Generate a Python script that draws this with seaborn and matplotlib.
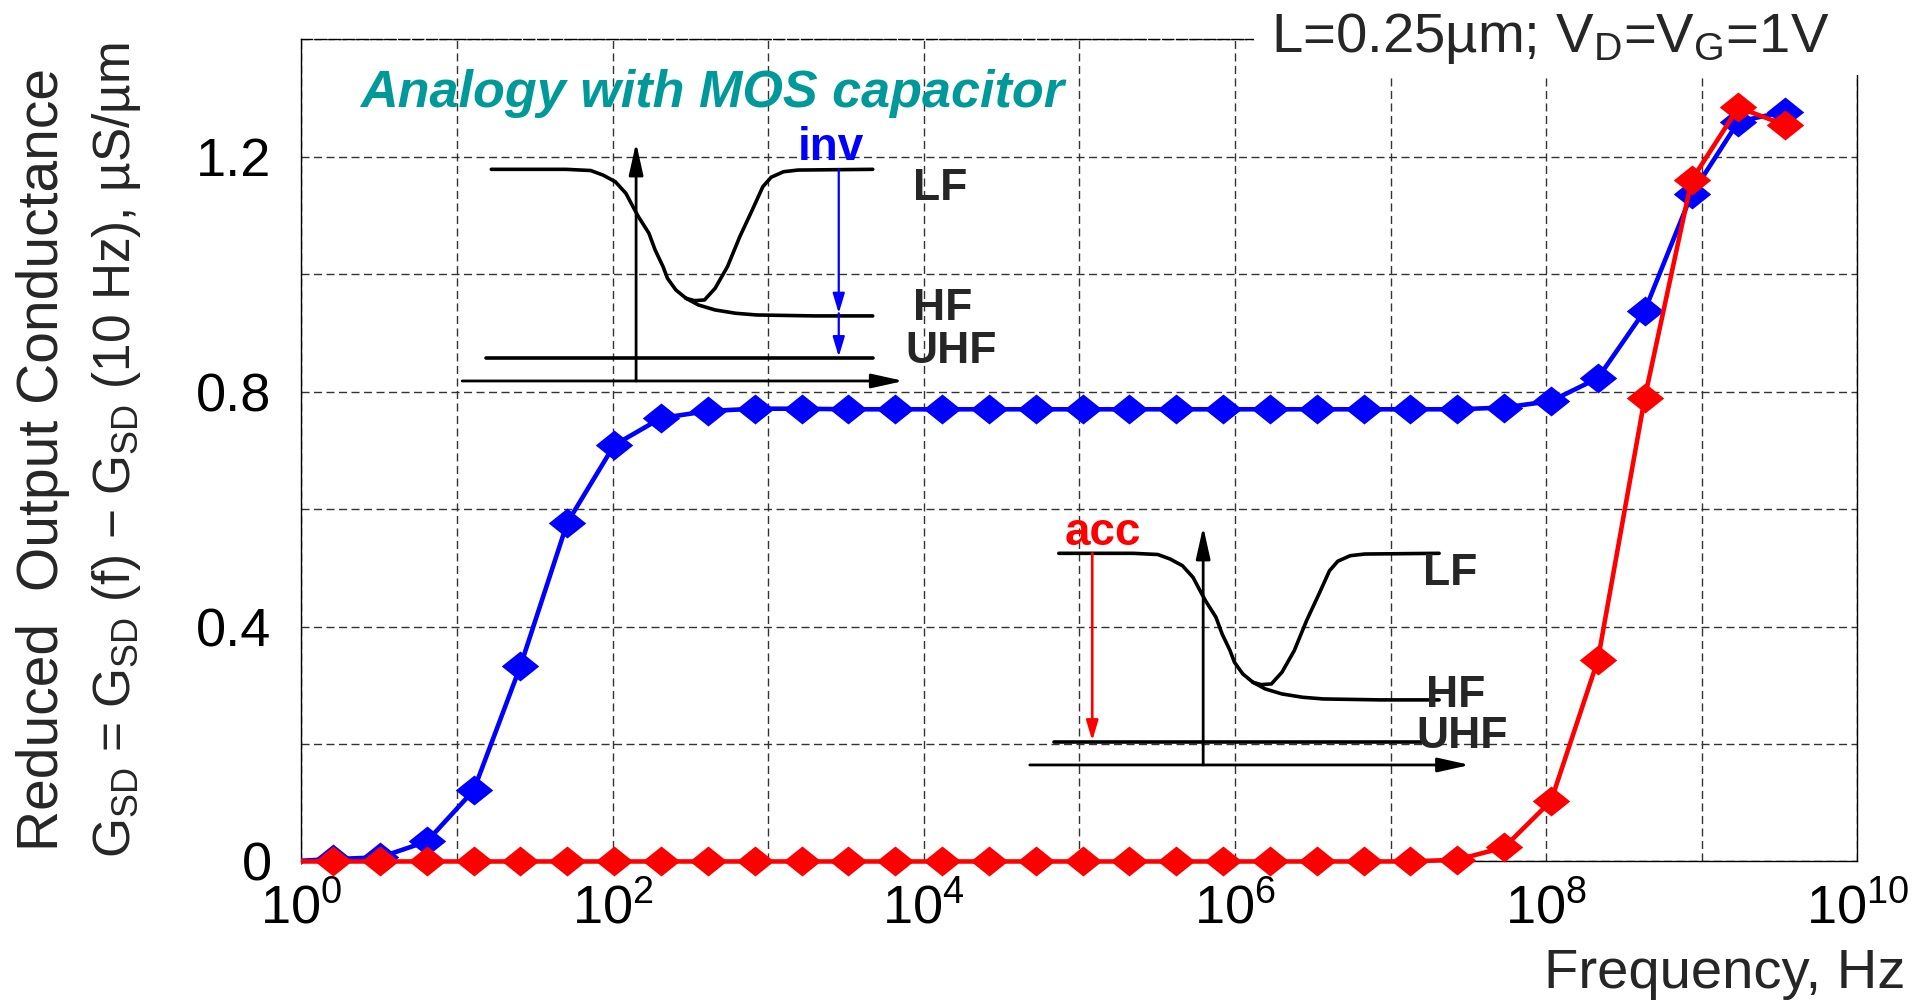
import matplotlib
matplotlib.use("Agg")
import matplotlib.pyplot as plt
from matplotlib.patches import Rectangle
from matplotlib.ticker import NullLocator
from matplotlib.transforms import Bbox, TransformedBbox
import pandas as pd
import seaborn as sns

# ---------------------------------------------------------------- data
freq_hz = [0.8, 1.6, 3.2, 6.4, 12.8, 25.6, 51.2, 102.4, 204.8, 409.6, 819.2,
           1.638e3, 3.277e3, 6.554e3, 1.311e4, 2.621e4, 5.243e4, 1.049e5,
           2.097e5, 4.194e5, 8.389e5, 1.678e6, 3.355e6, 6.711e6, 1.342e7,
           2.684e7, 5.369e7, 1.074e8, 2.147e8, 4.295e8, 8.590e8, 1.718e9,
           3.436e9]
g_inversion = [0.0, 0.004, 0.007, 0.034, 0.121, 0.333, 0.577, 0.709, 0.755,
               0.767, 0.771, 0.771, 0.770, 0.770, 0.770, 0.770, 0.770, 0.770,
               0.770, 0.770, 0.770, 0.770, 0.770, 0.770, 0.770, 0.770, 0.773,
               0.784, 0.823, 0.938, 1.136, 1.260, 1.277]
g_accumulation = [0.0, 0.0, 0.0, 0.0, 0.0, 0.0, 0.0, 0.0, 0.0, 0.0, 0.0,
                  0.0, 0.0, 0.0, 0.0, 0.0, 0.0, 0.0, 0.0, 0.0, 0.0, 0.0,
                  0.0, 0.0, 0.0, 0.003, 0.024, 0.103, 0.343, 0.789, 1.160,
                  1.284, 1.254]
series_names = ["inv", "acc"]
series_colors = ["#0000ff", "#ff0000"]

x_tick_exponents = [0, 1, 2, 3, 4, 5, 6, 7, 8, 9, 10]
y_ticks = [0.0, 0.2, 0.4, 0.6, 0.8, 1.0, 1.2, 1.4]
y_tick_labels = ["0", "", "0.4", "", "0.8", "", "1.2", ""]

# schematic MOS C-V curves in normalised inset coordinates
cv_fall_x = [0.066, 0.235, 0.291, 0.319, 0.347, 0.371, 0.385, 0.399, 0.423,
             0.437, 0.455, 0.465, 0.484, 0.507]
cv_fall_y = [0.888, 0.888, 0.883, 0.864, 0.836, 0.787, 0.738, 0.690, 0.620,
             0.550, 0.480, 0.431, 0.382, 0.347]
cv_lf_x = [0.507, 0.526, 0.549, 0.573, 0.601, 0.629, 0.657, 0.681, 0.700,
           0.728, 0.761, 0.930]
cv_lf_y = [0.347, 0.337, 0.340, 0.389, 0.480, 0.606, 0.717, 0.815, 0.855,
           0.878, 0.885, 0.888]
cv_hf_x = [0.507, 0.535, 0.573, 0.620, 0.667, 0.798, 0.930]
cv_hf_y = [0.347, 0.319, 0.298, 0.284, 0.277, 0.273, 0.273]
cv_lf_level = 0.888
cv_hf_level = 0.284
cv_uhf_level = 0.098
cv_gate_axis_x = 0.394

# ---------------------------------------------------------------- style
sns.set_style("white")
plt.rcParams["font.family"] = ["Liberation Sans", "DejaVu Sans"]
plt.rcParams["mathtext.fontset"] = "custom"
plt.rcParams["mathtext.rm"] = "Liberation Sans"
plt.rcParams["mathtext.it"] = "Liberation Sans:italic"
plt.rcParams["mathtext.bf"] = "Liberation Sans:bold"

fig = plt.figure(figsize=(19.28, 10.01), dpi=100)
ax = fig.add_axes([0.1563, 0.1394, 0.8071, 0.8213])

df = pd.concat([
    pd.DataFrame({"freq": freq_hz, "g": g_inversion, "series": "inv"}),
    pd.DataFrame({"freq": freq_hz, "g": g_accumulation, "series": "acc"}),
], ignore_index=True)

diamond = [(0.0, 0.40), (0.5, 0.0), (0.0, -0.40), (-0.5, 0.0), (0.0, 0.40)]

ax.set_xscale("log")
sns.lineplot(data=df, x="freq", y="g", hue="series", hue_order=series_names,
             palette=dict(zip(series_names, series_colors)), sort=False,
             errorbar=None, legend=False, ax=ax, linewidth=3.3,
             marker=diamond, markersize=27, markeredgewidth=0, zorder=3)

# clip the curves at the left edge only, so the zero line keeps its width
clip = TransformedBbox(Bbox([[0.0, -0.05], [1.05, 1.0]]), ax.transAxes)
for line in ax.lines:
    line.set_clip_box(clip)

ax.set_xlim(1, 1e10)
ax.set_ylim(0, 1.4)
ax.set_xticks([10.0 ** e for e in x_tick_exponents])
ax.set_xticklabels([rf"$\mathregular{{10^{{{e}}}}}$" if e % 2 == 0 else ""
                    for e in x_tick_exponents])
ax.xaxis.set_minor_locator(NullLocator())
ax.set_yticks(y_ticks)
ax.set_yticklabels(y_tick_labels)

ax.tick_params(axis="both", direction="out", length=8.4, width=1.0,
               color="#333333", labelsize=39, labelcolor="black")
ax.tick_params(axis="x", pad=7)
ax.tick_params(axis="y", pad=13)

ax.set_axisbelow(True)
ax.grid(True, which="major", color="#333333", linewidth=1.0,
        linestyle=(0, (5.8, 3.2)))
for side in ["left", "right", "bottom", "top"]:
    ax.spines[side].set_visible(True)
    ax.spines[side].set_color("black")
    ax.spines[side].set_linewidth(1.0)
ax.spines["top"].set_linestyle((0, (8, 2)))

# axis labels
ax.set_xlabel("Frequency, Hz", fontsize=40.5)
ax.xaxis.set_label_coords(1.0305, -0.1534)
ax.xaxis.label.set_ha("right")
ax.xaxis.label.set_va("baseline")

ax.set_ylabel(r"G$_\mathregular{SD}$ = G$_\mathregular{SD}$ (f) $-$ "
              r"G$_\mathregular{SD}$ (10 Hz), µS/µm", fontsize=37)
ax.yaxis.set_label_coords(-0.1104, 0.4999)
ax.yaxis.label.set_va("baseline")
ax.text(-0.1563, 0.4892, "Reduced  Output Conductance", rotation=90,
        rotation_mode="anchor", ha="center", va="baseline",
        transform=ax.transAxes, fontsize=41)

ax.text(0.038, 0.918, "Analogy with MOS capacitor", transform=ax.transAxes,
        fontsize=37.5, fontweight="bold", fontstyle="italic", color="#009999",
        ha="left", va="baseline")

# condition label on a white plate over the top-right corner
fig.add_artist(Rectangle((0.6504, 0.925), 0.36, 0.08,
                         transform=fig.transFigure, facecolor="white",
                         edgecolor="none", zorder=5))
fig.text(0.6592, 0.9484, r"L=0.25µm; V$_\mathregular{D}$=V$_\mathregular{G}$=1V",
         fontsize=40.5, ha="left", va="baseline", zorder=6)


# ---------------------------------------------------------------- insets
def arrow(iax, start, end, color, lw, head_len, head_w, scale):
    iax.annotate("", xy=end, xytext=start, xycoords="data",
                 arrowprops=dict(arrowstyle=f"-|>,head_length={head_len},"
                                            f"head_width={head_w}",
                                 color=color, lw=lw, mutation_scale=scale,
                                 shrinkA=0, shrinkB=0))


def cv_inset(rect, uhf_end, tag, tag_color, tag_xy, tag_ha, mark_x,
             two_heads, label_pos):
    iax = fig.add_axes(rect)
    iax.set_xlim(0, 1)
    iax.set_ylim(0, 1)
    iax.axis("off")
    iax.patch.set_alpha(0)

    lw = 2.6
    iax.plot(cv_fall_x, cv_fall_y, color="black", lw=lw, clip_on=False)
    iax.plot(cv_lf_x, cv_lf_y, color="black", lw=lw, clip_on=False)
    iax.plot(cv_hf_x, cv_hf_y, color="black", lw=lw, clip_on=False)
    iax.plot([0.054, uhf_end], [cv_uhf_level, cv_uhf_level], color="black",
             lw=lw, clip_on=False)

    # capacitance / voltage axes
    arrow(iax, (0.0, 0.0), (1.0, 0.0), "black", 2.0, 1.35, 0.3, 14.4)
    arrow(iax, (cv_gate_axis_x, 0.0), (cv_gate_axis_x, 1.0), "black", 2.0,
          1.35, 0.3, 14.4)

    if two_heads:
        arrow(iax, (mark_x, cv_lf_level), (mark_x, cv_hf_level), tag_color,
              1.6, 1.0, 0.3, 12)
        arrow(iax, (mark_x, cv_hf_level), (mark_x, cv_uhf_level + 0.004),
              tag_color, 1.6, 1.0, 0.3, 12)
    else:
        arrow(iax, (mark_x, cv_lf_level), (mark_x, cv_uhf_level + 0.004),
              tag_color, 1.9, 1.0, 0.3, 12)

    iax.text(tag_xy[0], tag_xy[1], tag, color=tag_color, fontsize=33,
             fontweight="bold", ha=tag_ha, va="baseline")
    for text, (tx, ty) in zip(["LF", "HF", "UHF"], label_pos):
        iax.text(tx, ty, text, fontsize=32, fontweight="bold",
                 ha="left", va="baseline")
    return iax


cv_inset([0.2397, 0.6194, 0.2290, 0.2381], 0.930, "inv", "#0000ff",
         (0.835, 0.927), "center", 0.853, True,
         [(1.022, 0.760), (1.022, 0.256), (1.004, 0.0755)])
cv_inset([0.5341, 0.2358, 0.2283, 0.2381], 0.900, "acc", "#ff0000",
         (0.167, 0.923), "center", 0.142, False,
         [(0.893, 0.755), (0.900, 0.245), (0.878, 0.070)])

fig.savefig("out.png", dpi=100)
